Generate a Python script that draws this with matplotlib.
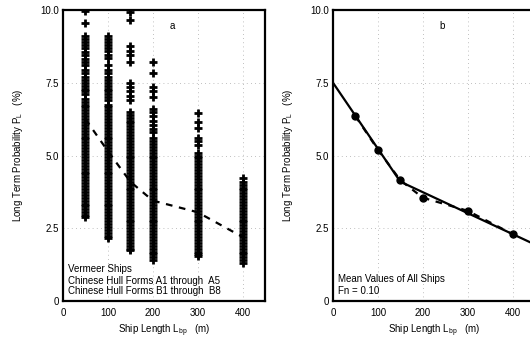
import matplotlib
matplotlib.use("Agg")
import matplotlib.pyplot as plt

plt.rcParams['font.family'] = ['Liberation Sans', 'DejaVu Sans']
plt.rcParams['mathtext.fontset'] = 'custom'
plt.rcParams['mathtext.rm'] = 'Liberation Sans'
plt.rcParams['mathtext.it'] = 'Liberation Sans'

# ---- Panel a data: long term probability for individual ships ----
lengths = [50, 100, 150, 200, 300, 400]
pl_50 = [9.95, 9.55, 9.1, 9.0, 8.9, 8.8, 8.7, 8.55, 8.45, 8.3, 8.2, 8.1, 7.95, 7.85,
         7.7, 7.6, 7.5, 7.4, 7.3, 7.2, 7.1, 6.95, 6.85, 6.75, 6.65, 6.55, 6.45, 6.35,
         6.25, 6.15, 6.05, 5.95, 5.85, 5.75, 5.65, 5.55, 5.45, 5.35, 5.25, 5.15, 5.05,
         4.95, 4.85, 4.75, 4.65, 4.55, 4.45, 4.35, 4.25, 4.15, 4.05, 3.95, 3.85, 3.75,
         3.65, 3.55, 3.45, 3.35, 3.25, 3.15, 3.05, 2.95, 2.9]
pl_100 = [9.1, 9.0, 8.9, 8.8, 8.7, 8.6, 8.45, 8.35, 8.1, 7.95, 7.85, 7.7, 7.6, 7.5,
          7.4, 7.3, 7.2, 7.1, 7.0, 6.9, 6.75, 6.65, 6.55, 6.45, 6.35, 6.25, 6.15,
          6.05, 5.95, 5.85, 5.75, 5.65, 5.55, 5.45, 5.35, 5.25, 5.15, 5.05, 4.95,
          4.85, 4.75, 4.65, 4.55, 4.45, 4.35, 4.25, 4.15, 4.05, 3.95, 3.85, 3.75,
          3.65, 3.55, 3.45, 3.35, 3.25, 3.15, 3.05, 2.95, 2.85, 2.75, 2.65, 2.55,
          2.45, 2.35, 2.25, 2.15]
pl_150 = [9.93, 9.66, 8.75, 8.6, 8.45, 8.2, 7.5, 7.35, 7.2, 7.05, 6.9, 6.5, 6.4,
          6.3, 6.2, 6.1, 6.0, 5.9, 5.8, 5.7, 5.6, 5.5, 5.4, 5.3, 5.2, 5.1, 5.0, 4.9,
          4.8, 4.7, 4.6, 4.5, 4.4, 4.3, 4.2, 4.1, 4.0, 3.9, 3.8, 3.7, 3.6, 3.5, 3.4,
          3.3, 3.2, 3.1, 3.0, 2.9, 2.8, 2.7, 2.6, 2.5, 2.4, 2.3, 2.2, 2.1, 2.0, 1.9,
          1.8, 1.75]
pl_200 = [8.2, 7.83, 7.35, 7.2, 7.0, 6.6, 6.5, 6.35, 6.2, 6.05, 5.9, 5.8, 5.6, 5.5,
          5.4, 5.3, 5.2, 5.1, 5.0, 4.9, 4.8, 4.7, 4.6, 4.5, 4.4, 4.3, 4.2, 4.1, 4.0,
          3.9, 3.8, 3.7, 3.6, 3.5, 3.4, 3.3, 3.2, 3.1, 3.0, 2.9, 2.8, 2.7, 2.6, 2.5,
          2.4, 2.3, 2.2, 2.1, 2.0, 1.9, 1.8, 1.7, 1.6, 1.5, 1.4]
pl_300 = [6.45, 6.15, 5.95, 5.6, 5.5, 5.35, 5.1, 5.0, 4.9, 4.8, 4.7, 4.6, 4.5, 4.4,
          4.3, 4.2, 4.1, 4.0, 3.9, 3.8, 3.7, 3.6, 3.5, 3.4, 3.3, 3.2, 3.1, 3.0, 2.9,
          2.8, 2.7, 2.6, 2.5, 2.4, 2.3, 2.2, 2.1, 2.0, 1.9, 1.8, 1.7, 1.6, 1.55]
pl_400 = [4.22, 4.1, 4.0, 3.9, 3.8, 3.7, 3.6, 3.5, 3.4, 3.3, 3.2, 3.1, 3.0, 2.9,
          2.8, 2.7, 2.6, 2.5, 2.4, 2.3, 2.2, 2.1, 2.0, 1.9, 1.8, 1.7, 1.6, 1.5,
          1.4, 1.3]
scatter_cols = [pl_50, pl_100, pl_150, pl_200, pl_300, pl_400]

# dashed mean curve in panel a
mean_a_x = [50, 100, 150, 200, 300, 400]
mean_a_y = [6.25, 5.15, 4.1, 3.45, 3.05, 2.2]

# ---- Panel b data: mean values ----
mean_b_x = [50, 100, 150, 200, 300, 400]
mean_b_y = [6.35, 5.2, 4.15, 3.55, 3.1, 2.3]
dash_b_x = [50, 100, 150, 200, 240, 300, 400]
dash_b_y = [6.35, 5.2, 4.15, 3.55, 3.37, 3.1, 2.3]
fit_b_x = [0, 150, 450]
fit_b_y = [7.5, 4.1, 1.94]

xticks = [0, 100, 200, 300, 400]
xticklabels = ['0', '100', '200', '300', '400']
yticks = [0, 2.5, 5.0, 7.5, 10.0]
yticklabels = ['0', '2.5', '5.0', '7.5', '10.0']

fig = plt.figure(figsize=(5.30, 3.39), dpi=100)
axa = fig.add_axes([63/530, 38/339, 202/530, 291/339])
axb = fig.add_axes([333/530, 38/339, 202/530, 291/339])

fs = 7
for ax in (axa, axb):
    ax.set_xlim(0, 450)
    ax.set_ylim(0, 10)
    ax.set_xticks(xticks)
    ax.set_xticklabels(xticklabels)
    ax.set_yticks(yticks)
    ax.set_yticklabels(yticklabels)
    ax.tick_params(axis='x', length=0, labelsize=fs, pad=5)
    ax.tick_params(axis='y', length=0, labelsize=fs, pad=3)
    for s in ax.spines.values():
        s.set_linewidth(1.6)
    ax.grid(True, linestyle=(0, (1, 4)), color='#aaaaaa', linewidth=0.6)
    ax.set_axisbelow(True)
    ax.set_xlabel(r"Ship Length L$_{\rm bp}$   (m)", fontsize=fs, labelpad=3)
    ax.set_ylabel(r"Long Term Probability P$_{\rm L}$   (%)", fontsize=fs, labelpad=11)

for x, col in zip(lengths, scatter_cols):
    axa.plot([x]*len(col), col, linestyle='none', marker='+', color='black',
             markersize=6, markeredgewidth=2)
axa.plot(mean_a_x, mean_a_y, linestyle=(0, (3, 3)), color='black', linewidth=1.6)
axa.text(244, 9.45, 'a', fontsize=fs, ha='center', va='center')
axa.text(12, 1.1, 'Vermeer Ships', fontsize=fs, va='center')
axa.text(12, 0.69, 'Chinese Hull Forms A1 through  A5', fontsize=fs, va='center')
axa.text(12, 0.34, 'Chinese Hull Forms B1 through  B8', fontsize=fs, va='center')

axb.plot(fit_b_x, fit_b_y, color='black', linewidth=1.6)
axb.plot(dash_b_x, dash_b_y, linestyle=(0, (3, 3)), color='black', linewidth=1.6)
axb.plot(mean_b_x, mean_b_y, linestyle='none', marker='o', color='black', markersize=5)
axb.text(242, 9.45, 'b', fontsize=fs, ha='center', va='center')
axb.text(11, 0.75, 'Mean Values of All Ships', fontsize=fs, va='center')
axb.text(11, 0.34, 'Fn = 0.10', fontsize=fs, va='center')

fig.savefig('out.png', dpi=100)
